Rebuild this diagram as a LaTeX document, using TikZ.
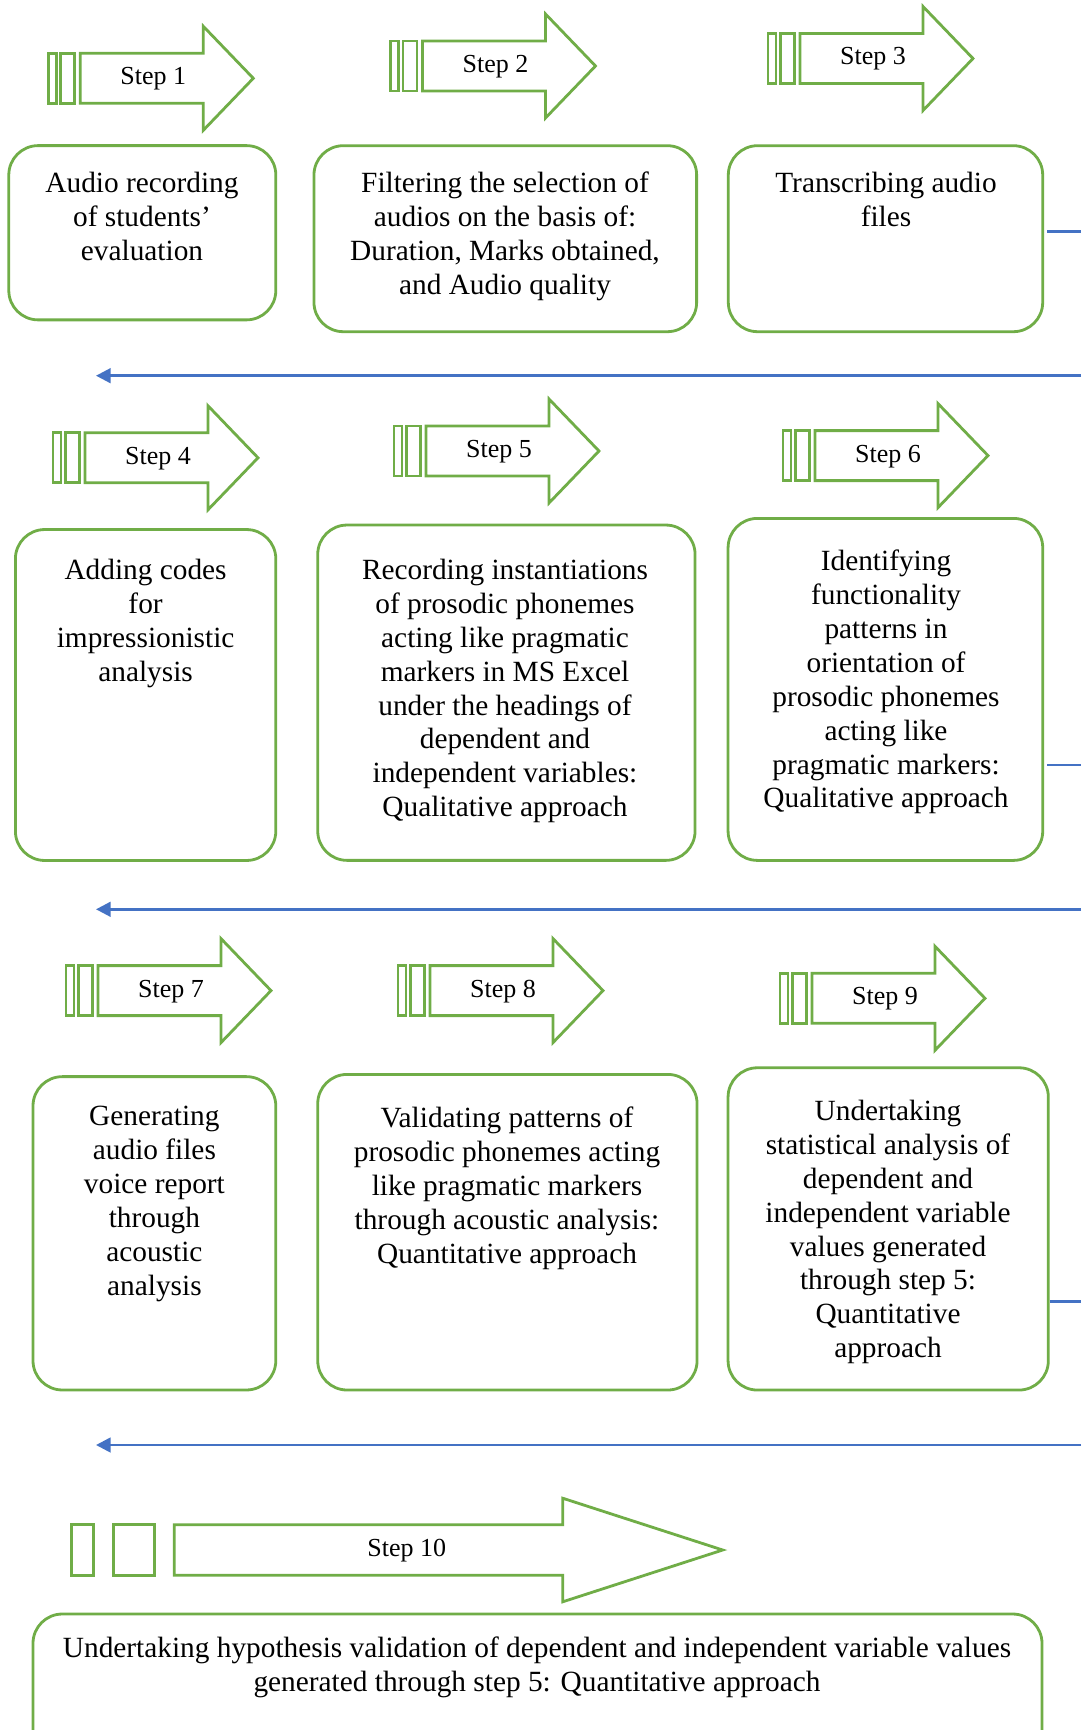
\documentclass[tikz,border=0pt]{standalone}
\usepackage{fontspec}
\setmainfont{Liberation Serif}
\usetikzlibrary{arrows.meta}
\definecolor{grn}{HTML}{70AD47}
\definecolor{blu}{HTML}{4472C4}
\tikzset{
  gline/.style={draw=grn, line width=2.1pt, line join=miter},
  pbox/.style={draw=grn, line width=2.1pt, rounded corners=22pt, rectangle, inner sep=0pt},
  btext/.style={align=center, inner sep=0pt, anchor=north, font=\fontsize{22}{25.4}\selectfont},
  steptext/.style={inner sep=0pt, anchor=base, font=\fontsize{19.5}{22}\selectfont},
  bline/.style={draw=blu, line width=2pt},
  barrow/.style={draw=blu, line width=2pt, -{Triangle[length=11pt,width=11pt]}}
}
\newcommand\stepArrow[4]{%
  \begin{scope}[shift={(#2,#3)}]
    \draw[gline] (0,-25) rectangle (8,25);
    \draw[gline] (12.5,-25) rectangle (26.5,25);
    \draw[gline] (32,-25) -- (155,-25) -- (155,-52) -- (205,0) -- (155,52) -- (155,25) -- (32,25) -- cycle;
    \node[steptext] (#1) at (105,6.5) {#4};
  \end{scope}}
\begin{document}
\begin{tikzpicture}[x=0.75pt,y=-0.75pt]
\useasboundingbox (0,0) rectangle (1081,1730);
\clip (0,0) rectangle (1081,1730);
\fill[white] (0,0) rectangle (1081,1730);

% Step arrows
\stepArrow{s1}{48.3}{78.3}{Step 1}
\stepArrow{s2}{390.5}{66}{Step 2}
\stepArrow{s3}{768}{58.5}{Step 3}
\stepArrow{s4}{53}{457.8}{Step 4}
\stepArrow{s5}{394}{451}{Step 5}
\stepArrow{s6}{783}{455.6}{Step 6}
\stepArrow{s7}{66}{990.6}{Step 7}
\stepArrow{s8}{398}{990.6}{Step 8}
\stepArrow{s9}{780}{998.3}{Step 9}

% Step 10 arrow
\begin{scope}[shift={(71.7,1550)}]
  \draw[gline] (0,-25.3) rectangle (22,25.3);
  \draw[gline] (42,-25.3) rectangle (82.7,25.3);
  \draw[gline] (102.6,-25.3) -- (491,-25.3) -- (491,-51.8) -- (651,0) -- (491,51.8) -- (491,25.3) -- (102.6,25.3) -- cycle;
  \node[steptext] (s10) at (335,6.5) {Step 10};
\end{scope}

% Boxes
\node[pbox, minimum width=200.25pt, minimum height=130.7pt] (b1) at (142.3,232.75) {};
\node[pbox, minimum width=287pt, minimum height=139.5pt] (b2) at (505.3,238.7) {};
\node[pbox, minimum width=235.8pt, minimum height=139.5pt] (b3) at (885.5,238.7) {};
\node[pbox, minimum width=195.3pt, minimum height=248.2pt] (b4) at (145.6,695) {};
\node[pbox, minimum width=283pt, minimum height=251.5pt] (b5) at (506.4,692.7) {};
\node[pbox, minimum width=236pt, minimum height=256.5pt] (b6) at (885.4,689.4) {};
\node[pbox, minimum width=182.1pt, minimum height=235pt] (b7) at (154.4,1233.3) {};
\node[pbox, minimum width=284.5pt, minimum height=236.7pt] (b8) at (507.4,1232.2) {};
\node[pbox, minimum width=240.2pt, minimum height=241.7pt] (b9) at (888.2,1228.9) {};
\node[pbox, minimum width=756.75pt, minimum height=124.5pt] (b10) at (537.5,1697) {};

% Box texts
\node[btext] (t1) at (142,172) {Audio recording\\of students’\\evaluation};
\node[btext] (t2) at (505,172) {Filtering the selection of\\audios on the basis of:\\Duration, Marks obtained,\\and Audio quality};
\node[btext] (t3) at (886,172) {Transcribing audio\\files};
\node[btext] (t4) at (145.6,559) {Adding codes\\for\\impressionistic\\analysis};
\node[btext] (t5) at (505,559) {Recording instantiations\\of prosodic phonemes\\acting like pragmatic\\markers in MS Excel\\under the headings of\\dependent and\\independent variables:\\Qualitative approach};
\node[btext] (t6) at (886,550) {Identifying\\functionality\\patterns in\\orientation of\\prosodic phonemes\\acting like\\pragmatic markers:\\Qualitative approach};
\node[btext] (t7) at (154.4,1106) {Generating\\audio files\\voice report\\through\\acoustic\\analysis};
\node[btext] (t8) at (507,1107) {Validating patterns of\\prosodic phonemes acting\\like pragmatic markers\\through acoustic analysis:\\Quantitative approach};
\node[btext] (t9) at (888,1100) {Undertaking\\statistical analysis of\\dependent and\\independent variable\\values generated\\through step 5:\\Quantitative\\approach};
\node[btext] (t10) at (537,1637) {Undertaking hypothesis validation of dependent and independent variable values\\generated through step 5: Quantitative approach};

% Blue connectors
\coordinate (r1) at (1081,231.7);
\coordinate (r2) at (1081,765);
\coordinate (r3) at (1081,1301.5);
\draw[bline, shorten <=2.5pt] (b3.east |- r1) -- (r1);
\draw[bline, shorten <=2.5pt] (b6.east |- r2) -- (r2);
\draw[bline] (b9.east |- r3) -- (r3);

\coordinate (l1s) at (1081,375.7);
\coordinate (l1e) at (96,375.7);
\coordinate (l2s) at (1081,909.3);
\coordinate (l2e) at (96,909.3);
\coordinate (l3s) at (1081,1445);
\coordinate (l3e) at (96,1445);
\draw[barrow] (l1s) -- (l1e);
\draw[barrow] (l2s) -- (l2e);
\draw[barrow] (l3s) -- (l3e);
\end{tikzpicture}
\end{document}
